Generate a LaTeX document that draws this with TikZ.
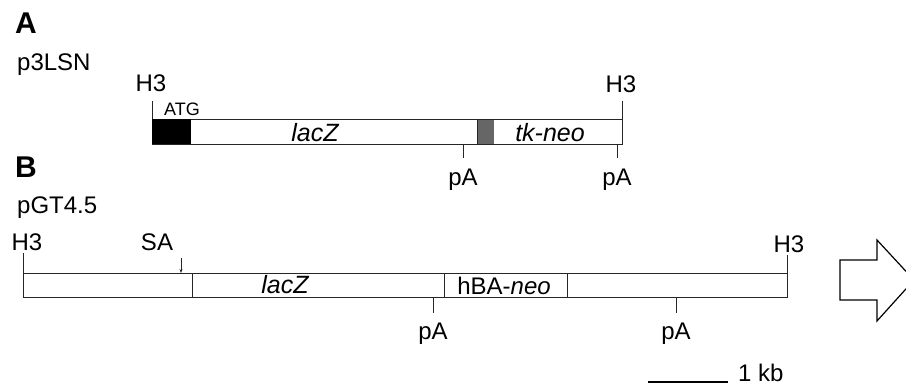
\documentclass[tikz,border=0pt]{standalone}
\usepackage{fontspec}
\setmainfont{Liberation Sans}
\usetikzlibrary{arrows.meta}
\begin{document}
\begin{tikzpicture}[x=1pt,y=-1pt,
  ln/.style={draw=black!85,line width=0.8pt},
  lbl/.style={inner sep=0pt,anchor=base,font=\fontsize{24}{27}\selectfont},
  smalllbl/.style={inner sep=0pt,anchor=base,font=\fontsize{18}{21}\selectfont},
  genelbl/.style={inner sep=0pt,anchor=base,font=\fontsize{25}{28}\selectfont\itshape},
  panellbl/.style={inner sep=0pt,anchor=base west,font=\fontsize{30}{33}\selectfont\bfseries},
  plasmidlbl/.style={inner sep=0pt,anchor=base west,font=\fontsize{24}{27}\selectfont}]
\useasboundingbox (0,0) rectangle (906,388);
\clip (0,0) rectangle (906,388);

% Panel A
\node[panellbl] (pa) at (15,33) {A};
\node[plasmidlbl] (nA) at (17,70) {p3LSN};
\draw[ln] (152,119) rectangle (622,144);
\fill[black] (152,119) rectangle (191,144);
\fill[black!60] (477,120) rectangle (494,144);
\draw[ln] (477,120) -- (477,144);
\node[genelbl] (lacA) at (315,141) {lacZ};
\node[genelbl] (tkneo) at (550,141) {tk-neo};
\coordinate (a1) at (152,101); \coordinate (a1b) at (152,119);
\coordinate (a2) at (622,101); \coordinate (a2b) at (622,119);
\draw[ln] (a1) -- (a1b);
\draw[ln] (a2) -- (a2b);
\node[lbl] (h3a1) at (151,91) {H3};
\node[lbl] (h3a2) at (621,92) {H3};
\node[smalllbl] (atg) at (182,115) {ATG};
\coordinate (pa1) at (463,144); \coordinate (pa1b) at (463,158);
\coordinate (pa2) at (617,144); \coordinate (pa2b) at (617,158);
\draw[ln] (pa1) -- (pa1b);
\draw[ln] (pa2) -- (pa2b);
\node[lbl] (pA1) at (463,185) {pA};
\node[lbl] (pA2) at (617,185) {pA};

% Panel B
\node[panellbl] (pb) at (15,177) {B};
\node[plasmidlbl] (nB) at (17,213) {pGT4.5};
\draw[ln] (23,273) rectangle (787,297);
\draw[ln] (192,273) -- (192,297);
\draw[ln] (444,273) -- (444,297);
\draw[ln] (567,273) -- (567,297);
\node[genelbl] (lacB) at (285,293) {lacZ};
\node[lbl] (hba) at (504,294) {hBA-\textit{neo}};
\coordinate (b1) at (23,253); \coordinate (b1b) at (23,273);
\coordinate (b2) at (787,255); \coordinate (b2b) at (787,273);
\draw[ln] (b1) -- (b1b);
\draw[ln] (b2) -- (b2b);
\node[lbl] (h3b1) at (27,250) {H3};
\node[lbl] (h3b2) at (789,252) {H3};
\node[lbl] (sa) at (157,250) {SA};
\coordinate (s1) at (181,258); \coordinate (s2) at (181,273);
\draw[ln,-{Stealth[length=4pt,width=3pt]}] (s1) -- (s2);
\coordinate (pb1) at (433,297); \coordinate (pb1b) at (433,313);
\coordinate (pb2) at (676,297); \coordinate (pb2b) at (676,313);
\draw[ln] (pb1) -- (pb1b);
\draw[ln] (pb2) -- (pb2b);
\node[lbl] (pB1) at (433,339) {pA};
\node[lbl] (pB2) at (676,339) {pA};

% scale bar
\coordinate (sc1) at (648,382); \coordinate (sc2) at (728,382);
\draw[black,line width=2pt] (sc1) -- (sc2);
\node[lbl,anchor=base west] (kb) at (738,381) {1 kb};

% block arrow
\draw[black,line width=1.2pt,line join=miter]
  (840,260) -- (877,260) -- (877,240) -- (914,280) -- (877,321) -- (877,300) -- (840,300) -- cycle;
\end{tikzpicture}
\end{document}
